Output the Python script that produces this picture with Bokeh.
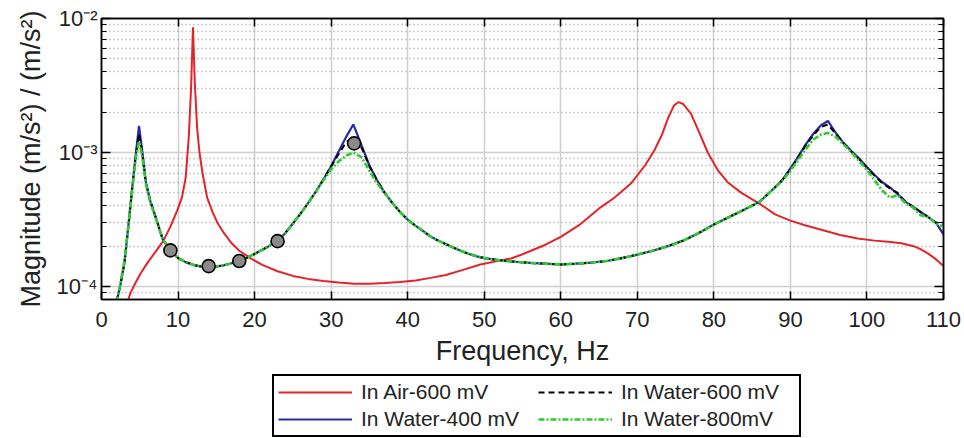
from bokeh.plotting import figure
from bokeh.layouts import column
from bokeh.models import (LinearAxis, LogAxis, FixedTicker, CustomJSTickFormatter,
                          Legend, LegendItem, Range1d)
from bokeh.embed import file_html
from bokeh.resources import INLINE

# ---------------- data ----------------
x_ticks = [0, 10, 20, 30, 40, 50, 60, 70, 80, 90, 100, 110]
y_tick_values = [1e-4, 1e-3, 1e-2]
y_tick_labels = ["10\u207b\u2074", "10\u207b\u00b3", "10\u207b\u00b2"]
y_minor_values = [8e-5, 9e-5,
                  2e-4, 3e-4, 4e-4, 5e-4, 6e-4, 7e-4, 8e-4, 9e-4,
                  2e-3, 3e-3, 4e-3, 5e-3, 6e-3, 7e-3, 8e-3, 9e-3]

air_f = [3.5, 3.8, 4.5, 5.1, 6.0, 7.0, 8.1, 9.0, 9.9, 10.5, 11.0, 11.4, 11.7, 11.95,
         12.2, 12.5, 12.8, 13.2, 13.8, 14.5, 15.2, 16.0, 17.0, 18.0, 19.5, 21.0, 23.0,
         25.0, 27.0, 29.0, 31.0, 33.0, 35.0, 37.0, 39.0, 41.0, 43.0, 45.0, 47.0, 49.5,
         52.0, 53.5, 55.0, 58.0, 60.0, 62.5, 65.2, 67.0, 69.2, 71.0, 72.2, 73.2, 74.0,
         74.8, 75.4, 76.0, 77.0, 78.0, 79.2, 80.5, 81.8, 83.6, 86.1, 88.0, 90.0, 92.0,
         94.4, 96.5, 98.8, 101.0, 103.1, 104.5, 106.1, 107.0, 108.0, 109.0, 110.0]
air_600 = [8.0e-5, 9.0e-5, 1.08e-4, 1.25e-4, 1.5e-4, 1.8e-4, 2.2e-4, 2.8e-4, 3.7e-4,
           4.6e-4, 6.5e-4, 1.3e-3, 3.0e-3, 8.6e-3,
           3.2e-3, 1.5e-3, 1.0e-3, 7.0e-4, 4.6e-4, 3.6e-4, 2.95e-4, 2.5e-4, 2.1e-4,
           1.85e-4, 1.62e-4, 1.45e-4, 1.3e-4,
           1.2e-4, 1.14e-4, 1.1e-4, 1.07e-4, 1.05e-4, 1.05e-4, 1.06e-4, 1.08e-4,
           1.11e-4, 1.16e-4, 1.22e-4, 1.32e-4, 1.46e-4,
           1.56e-4, 1.62e-4, 1.74e-4, 2.05e-4, 2.35e-4, 2.9e-4, 3.9e-4, 4.6e-4, 5.9e-4,
           8.0e-4, 1.03e-3, 1.35e-3, 1.8e-3,
           2.25e-3, 2.38e-3, 2.3e-3, 1.95e-3, 1.45e-3, 1.0e-3, 7.4e-4, 6.0e-4, 5.0e-4,
           4.1e-4, 3.45e-4, 3.1e-4, 2.85e-4,
           2.62e-4, 2.42e-4, 2.28e-4, 2.2e-4, 2.15e-4, 2.1e-4, 2.0e-4, 1.9e-4, 1.76e-4,
           1.6e-4, 1.42e-4]

water_f = [2.0, 2.5, 3.0, 3.5, 4.0, 4.5, 4.9, 5.3, 5.8, 6.4, 7.0,
           8, 9, 10, 11, 12, 13, 14, 15, 16, 17, 18, 19, 20, 21, 22, 23, 24, 25, 26, 27,
           28, 29, 30, 31, 32, 32.9, 34, 35, 36, 37, 38, 39, 40, 41, 42, 43, 44, 45, 46,
           47, 48, 49, 50,
           52, 54, 56, 58, 60, 62, 64, 66, 68, 70, 72, 74, 76, 78, 80, 82, 84, 86, 88,
           89, 90, 91, 92, 93, 94, 94.9,
           96, 97, 98, 99, 100, 101, 102, 103, 104, 105, 106, 107, 108, 109, 110]

water_400 = [7.8e-5, 1.05e-4, 1.5e-4, 2.8e-4, 5.4e-4, 1.0e-3, 1.58e-3, 1.05e-3, 6.0e-4, 4.3e-4, 3.4e-4,
             2.25e-4, 1.87e-4, 1.63e-4, 1.52e-4, 1.45e-4, 1.41e-4, 1.39e-4, 1.41e-4, 1.44e-4,
             1.49e-4, 1.55e-4, 1.64e-4, 1.75e-4, 1.88e-4, 2.02e-4, 2.2e-4, 2.5e-4, 2.95e-4,
             3.5e-4, 4.2e-4, 5.1e-4, 6.3e-4, 7.9e-4, 1.02e-3, 1.32e-3, 1.62e-3, 1.12e-3,
             8.0e-4, 6.2e-4, 5.0e-4, 4.2e-4, 3.6e-4, 3.15e-4, 2.85e-4, 2.6e-4, 2.36e-4,
             2.2e-4, 2.07e-4, 1.95e-4, 1.84e-4, 1.75e-4, 1.68e-4, 1.63e-4,
             1.57e-4, 1.53e-4, 1.5e-4, 1.48e-4, 1.46e-4, 1.48e-4, 1.51e-4, 1.55e-4, 1.63e-4,
             1.73e-4, 1.85e-4, 2.0e-4, 2.2e-4, 2.5e-4, 2.9e-4, 3.3e-4, 3.75e-4, 4.3e-4, 5.5e-4,
             6.3e-4, 7.6e-4, 9.3e-4, 1.15e-3, 1.38e-3, 1.6e-3, 1.72e-3,
             1.38e-3, 1.17e-3, 1.02e-3, 9.0e-4, 7.8e-4, 6.8e-4, 6.0e-4, 5.5e-4, 4.9e-4,
             4.3e-4, 3.95e-4, 3.6e-4, 3.3e-4, 3.0e-4, 2.45e-4]

water_600 = [7.8e-5, 1.05e-4, 1.5e-4, 2.75e-4, 5.3e-4, 9.8e-4, 1.38e-3, 1.02e-3, 5.9e-4, 4.3e-4, 3.4e-4,
             2.25e-4, 1.87e-4, 1.63e-4, 1.52e-4, 1.45e-4, 1.41e-4, 1.39e-4, 1.41e-4, 1.44e-4,
             1.49e-4, 1.55e-4, 1.64e-4, 1.75e-4, 1.88e-4, 2.02e-4, 2.2e-4, 2.5e-4, 2.95e-4,
             3.5e-4, 4.2e-4, 5.1e-4, 6.3e-4, 7.9e-4, 9.8e-4, 1.2e-3, 1.3e-3, 1.08e-3,
             7.9e-4, 6.2e-4, 5.0e-4, 4.2e-4, 3.6e-4, 3.15e-4, 2.85e-4, 2.6e-4, 2.36e-4,
             2.2e-4, 2.07e-4, 1.95e-4, 1.84e-4, 1.75e-4, 1.68e-4, 1.63e-4,
             1.57e-4, 1.53e-4, 1.5e-4, 1.48e-4, 1.46e-4, 1.48e-4, 1.51e-4, 1.55e-4, 1.63e-4,
             1.73e-4, 1.85e-4, 2.0e-4, 2.2e-4, 2.5e-4, 2.9e-4, 3.3e-4, 3.75e-4, 4.3e-4, 5.5e-4,
             6.3e-4, 7.5e-4, 9.2e-4, 1.13e-3, 1.35e-3, 1.55e-3, 1.62e-3,
             1.36e-3, 1.16e-3, 1.01e-3, 8.9e-4, 7.7e-4, 6.7e-4, 5.9e-4, 5.4e-4, 5.0e-4,
             4.3e-4, 3.95e-4, 3.6e-4, 3.3e-4, 3.0e-4, 2.9e-4]

water_800 = [7.6e-5, 1.08e-4, 1.55e-4, 2.8e-4, 5.2e-4, 9.3e-4, 1.2e-3, 9.6e-4, 5.8e-4, 4.2e-4, 3.35e-4,
             2.25e-4, 1.87e-4, 1.63e-4, 1.52e-4, 1.45e-4, 1.41e-4, 1.39e-4, 1.41e-4, 1.44e-4,
             1.49e-4, 1.55e-4, 1.64e-4, 1.75e-4, 1.88e-4, 2.02e-4, 2.2e-4, 2.5e-4, 2.95e-4,
             3.5e-4, 4.2e-4, 5.1e-4, 6.2e-4, 7.5e-4, 8.6e-4, 9.5e-4, 1.0e-3, 9.2e-4,
             7.3e-4, 5.9e-4, 5.0e-4, 4.2e-4, 3.6e-4, 3.15e-4, 2.85e-4, 2.6e-4, 2.36e-4,
             2.2e-4, 2.07e-4, 1.95e-4, 1.84e-4, 1.75e-4, 1.68e-4, 1.63e-4,
             1.57e-4, 1.53e-4, 1.5e-4, 1.48e-4, 1.46e-4, 1.48e-4, 1.51e-4, 1.55e-4, 1.63e-4,
             1.73e-4, 1.85e-4, 2.0e-4, 2.2e-4, 2.5e-4, 2.9e-4, 3.3e-4, 3.75e-4, 4.3e-4, 5.5e-4,
             6.2e-4, 7.3e-4, 8.8e-4, 1.06e-3, 1.25e-3, 1.36e-3, 1.4e-3,
             1.3e-3, 1.14e-3, 1.0e-3, 8.6e-4, 7.4e-4, 6.2e-4, 5.2e-4, 4.6e-4, 4.8e-4,
             4.2e-4, 3.9e-4, 3.4e-4, 3.3e-4, 2.95e-4, 2.8e-4]

marker_f = [9, 14, 18, 23, 33]
marker_y = [1.86e-4, 1.42e-4, 1.55e-4, 2.18e-4, 1.17e-3]

series_labels = ["In Air-600 mV", "In Water-400 mV", "In Water-600 mV", "In Water-800mV"]

# ---------------- styles ----------------
FONT = "Liberation Sans"
TXT = "#222222"
styles = [dict(line_color="#e3242b", line_width=2),
          dict(line_color="#2a2aa5", line_width=2.2),
          dict(line_color="black", line_width=2, line_dash="6 4"),
          dict(line_color="#2fcc2f", line_width=2.6, line_dash="6 2 2 2")]
series = [(air_f, air_600), (water_f, water_400), (water_f, water_600), (water_f, water_800)]

# ---------------- main figure ----------------
p = figure(width=964, height=374,
           x_range=Range1d(0, 110), y_range=Range1d(8e-5, 1e-2),
           y_axis_type="log", output_backend="svg", toolbar_location=None,
           min_border_left=101, min_border_right=21, min_border_top=18,
           min_border_bottom=75)
p.background_fill_color = "white"
p.border_fill_color = "white"
p.outline_line_color = "black"
p.outline_line_width = 1.5
p.outline_line_alpha = 1.0

top_axis = LinearAxis()
right_axis = LogAxis()
p.add_layout(top_axis, "above")
p.add_layout(right_axis, "right")

xt = FixedTicker(ticks=x_ticks, minor_ticks=[])
yt = FixedTicker(ticks=y_tick_values, minor_ticks=y_minor_values)

for ax in p.xaxis:
    ax.ticker = xt
for ax in p.yaxis:
    ax.ticker = yt

for ax in list(p.xaxis) + list(p.yaxis):
    ax.axis_line_color = "black"
    ax.axis_line_width = 1.5
    ax.major_tick_line_color = "black"
    ax.major_tick_line_width = 1.5
    ax.minor_tick_line_color = "black"
    ax.minor_tick_line_width = 1.2
    ax.major_tick_out = 0
    ax.minor_tick_out = 0
    ax.major_label_text_font = FONT
    ax.major_label_text_color = TXT
    ax.axis_label_text_font = FONT
    ax.axis_label_text_color = TXT
    ax.axis_label_text_font_style = "normal"

for ax in p.xaxis:
    ax.major_tick_in = 8
    ax.minor_tick_in = 0
for ax in p.yaxis:
    ax.major_tick_in = 9
    ax.minor_tick_in = 5

blank = CustomJSTickFormatter(code="return '';")
top_axis.formatter = blank
right_axis.formatter = blank
top_axis.major_label_standoff = 0
right_axis.major_label_standoff = 0

xa = p.below[0]
xa.major_label_text_font_size = "22px"
xa.major_label_standoff = 12
xa.axis_label = "Frequency, Hz"
xa.axis_label_text_font_size = "27px"
xa.axis_label_standoff = 6

ya = p.left[0]
ya.formatter = CustomJSTickFormatter(
    args=dict(vals=y_tick_values, labs=y_tick_labels),
    code="""
    let best = 0, bd = 1e9;
    for (let i = 0; i < vals.length; i++) {
        const d = Math.abs(Math.log10(vals[i]) - Math.log10(tick));
        if (d < bd) { bd = d; best = i; }
    }
    return labs[best];
    """)
ya.major_label_text_font_size = "22px"
ya.major_label_standoff = 4
ya.axis_label = "Magnitude (m/s\u00b2) / (m/s\u00b2)"
ya.axis_label_text_font_size = "27px"
ya.axis_label_standoff = 8

p.xgrid.ticker = xt
p.ygrid.ticker = yt
p.xgrid.grid_line_color = "#cfcfcf"
p.xgrid.grid_line_width = 1.5
p.ygrid.grid_line_color = "#cfcfcf"
p.ygrid.grid_line_width = 1.5
p.ygrid.minor_grid_line_color = "#9a9a9a"
p.ygrid.minor_grid_line_width = 1.5
p.ygrid.minor_grid_line_dash = "1 3"

for (fx, fy), st in zip(series, styles):
    p.line(fx, fy, **st)

p.scatter(marker_f, marker_y, size=13, fill_color="#8a8a8a", line_color="black",
          line_width=1.6)

# ---------------- legend strip (its glyph renderers lie outside its own view) ----------------
lf = figure(width=964, height=64, x_range=Range1d(1000, 1001), y_range=Range1d(1, 2),
            output_backend="svg", toolbar_location=None,
            x_axis_location=None, y_axis_location=None,
            min_border_left=101, min_border_right=21, min_border_top=0, min_border_bottom=0)
lf.outline_line_color = None
lf.xgrid.visible = False
lf.ygrid.visible = False
lf.background_fill_color = "white"
lf.border_fill_color = "white"

items = []
for lab, (fx, fy), st in zip(series_labels, series, styles):
    r = lf.line(fx, fy, **st)
    items.append(LegendItem(label=lab, renderers=[r]))

legend = Legend(
    items=items, location=(171, 1), orientation="vertical", ncols=2,
    label_text_font=FONT, label_text_font_size="21px", label_text_color=TXT,
    glyph_width=74, glyph_height=24, label_height=24, label_width=174,
    label_standoff=9, spacing=3, padding=4,
    border_line_color="black", border_line_width=2, border_line_alpha=1.0,
    background_fill_color="white", background_fill_alpha=1.0,
)
lf.add_layout(legend)

layout = column(p, lf, spacing=0)
open("out.html", "w").write(file_html(layout, INLINE))
